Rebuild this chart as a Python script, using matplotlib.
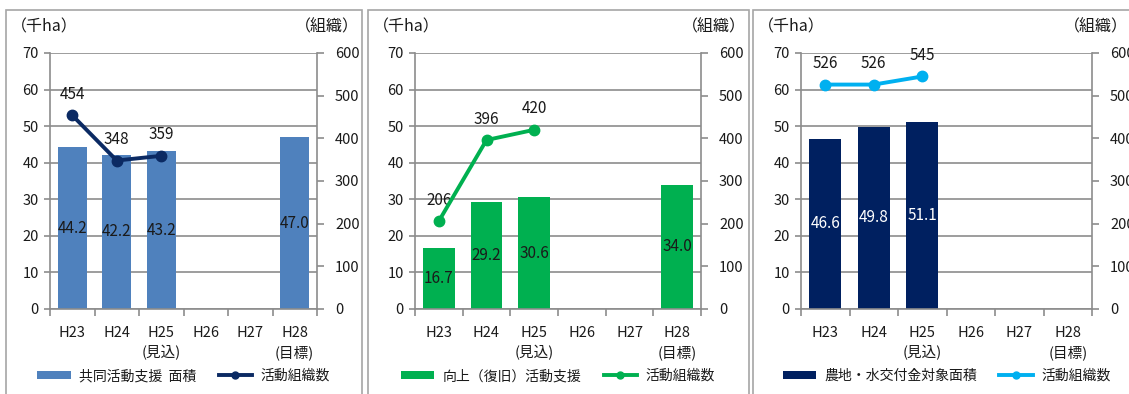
import numpy as np
import matplotlib
matplotlib.use("Agg")
import matplotlib.pyplot as plt
from matplotlib.patches import Rectangle
from matplotlib.lines import Line2D
from matplotlib.patches import Patch

plt.rcParams['font.family'] = ['Noto Sans CJK JP', 'DejaVu Sans']

# Fiscal years (Heisei) shown on every panel
years = ['H23', 'H24', 'H25\n(見込)', 'H26', 'H27', 'H28\n(目標)']

# Panel 1: joint activity support
area_joint = [44.2, 42.2, 43.2, np.nan, np.nan, 47.0]
orgs_joint = [454, 348, 359]
# Panel 2: improvement (restoration) activity support
area_improve = [16.7, 29.2, 30.6, np.nan, np.nan, 34.0]
orgs_improve = [206, 396, 420]
# Panel 3: farmland/water grant area
area_grant = [46.6, 49.8, 51.1, np.nan, np.nan, np.nan]
orgs_grant = [526, 526, 545]

bar_names = ['共同活動支援  面積', '向上（復旧）活動支援', '農地・水交付金対象面積']
line_name = '活動組織数'

W, H = 1129, 394
fig = plt.figure(figsize=(W / 100, H / 100), dpi=100)

GRID = '#8C8C8C'
TXT = '#1A1A1A'
FS = 10.5

panels = [
    dict(area=area_joint, orgs=orgs_joint, bar='#4F81BD', line='#0B2A63',
         lbl=TXT, name=bar_names[0], box=(6, 362), plot=(50, 317)),
    dict(area=area_improve, orgs=orgs_improve, bar='#00B050', line='#00B050',
         lbl=TXT, name=bar_names[1], box=(368, 749), plot=(415, 701)),
    dict(area=area_grant, orgs=orgs_grant, bar='#002060', line='#00B0F0',
         lbl='white', name=bar_names[2], box=(753, 1140), plot=(801, 1092)),
]

top_px, bot_px = 53, 309

for p in panels:
    # panel frame
    bx0, bx1 = p['box']
    fig.patches.append(Rectangle((bx0 / W, -0.05), (bx1 - bx0) / W, 1.05 - 10 / H,
                                 transform=fig.transFigure, fill=False,
                                 edgecolor='#A6A6A6', linewidth=1.2))
    x0, x1 = p['plot']
    ax = fig.add_axes([x0 / W, 1 - bot_px / H, (x1 - x0) / W, (bot_px - top_px) / H])
    x = np.arange(len(years))
    ax.bar(x, p['area'], width=0.66, color=p['bar'], zorder=2)
    for xi, v in zip(x, p['area']):
        if not np.isnan(v):
            ax.text(xi, v / 2, f'{v:.1f}', ha='center', va='center',
                    color=p['lbl'], fontsize=FS + 0.5, zorder=3)
    ax.set_xlim(-0.5, len(years) - 0.5)
    ax.set_ylim(0, 70)
    ax.set_yticks(np.arange(0, 71, 10))
    ax.yaxis.grid(True, color=GRID, linewidth=1.2)
    ax.set_axisbelow(True)
    ax.set_xticks(np.arange(-0.5, len(years), 1.0))
    ax.set_xticklabels([])
    ax.set_xticks(x, minor=True)
    ax.set_xticklabels(years, minor=True, fontsize=FS, color=TXT, linespacing=1.45,
                       va='top')
    ax.tick_params(axis='x', which='major', length=5, color=GRID, width=1.2,
                   direction='out')
    ax.tick_params(axis='x', which='minor', length=0, pad=12)
    ax.tick_params(axis='y', length=4, color=GRID, width=1.2, labelsize=FS,
                   labelcolor=TXT, pad=4)
    for s in ['top', 'right']:
        ax.spines[s].set_visible(False)
    for s in ['left', 'bottom']:
        ax.spines[s].set_color(GRID)
        ax.spines[s].set_linewidth(1.2)

    ax2 = ax.twinx()
    ax2.set_ylim(0, 600)
    ax2.set_yticks(np.arange(0, 601, 100))
    ax2.tick_params(axis='y', length=5, color=GRID, width=1.2, labelsize=FS,
                    labelcolor=TXT, pad=8)
    for s in ['top', 'left', 'bottom']:
        ax2.spines[s].set_visible(False)
    ax2.spines['right'].set_color(GRID)
    ax2.spines['right'].set_linewidth(1.2)
    xo = np.arange(len(p['orgs']))
    ax2.plot(xo, p['orgs'], color=p['line'], linewidth=2.8, marker='o',
             markersize=7.5, zorder=4, clip_on=False)
    for xi, v in zip(xo, p['orgs']):
        ax2.annotate(f'{v}', (xi, v), xytext=(0, 9), textcoords='offset points',
                     ha='center', va='bottom', fontsize=FS + 0.5, color=TXT)

    # unit captions
    fig.text((bx0 + 5) / W, 1 - 27 / H, '（千ha）', fontsize=FS + 1, color=TXT,
             ha='left', va='center')
    cap_right = min(bx1 - 3, W - 1)
    fig.text(cap_right / W, 1 - 27 / H, '（組織）', fontsize=FS + 1, color=TXT,
             ha='right', va='center')

    handles = [Patch(facecolor=p['bar'], edgecolor='none'),
               Line2D([], [], color=p['line'], linewidth=2.8, marker='o',
                      markersize=5)]
    fig.legend(handles, [p['name'], line_name], loc='center',
               bbox_to_anchor=((x0 + x1) / 2 / W, 1 - 376 / H), ncol=2,
               frameon=False, fontsize=FS - 0.5, handlelength=2.4,
               handleheight=0.55, columnspacing=1.6, handletextpad=0.6,
               labelcolor=TXT)

fig.savefig('out.png', dpi=100)
